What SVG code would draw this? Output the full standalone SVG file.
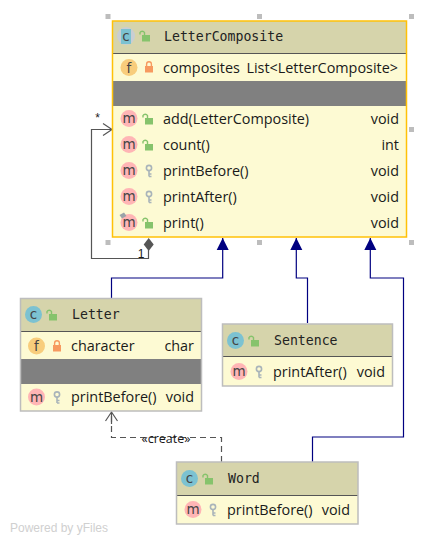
<svg xmlns="http://www.w3.org/2000/svg" width="427" height="545" viewBox="0 0 427 545">
<style>
text{font-family:"Open Sans","Noto Sans","Liberation Sans",sans-serif;font-size:14.4px;fill:#1a1a1a}
.t{font-family:"DejaVu Sans Mono","Liberation Mono",monospace;font-size:13.2px;fill:#222}
.r{text-anchor:end}
.ic{font-family:"DejaVu Sans","Liberation Sans",sans-serif;font-size:13.5px;text-anchor:middle;fill:#444}
.hd{fill:#d6d4ab}.bd{fill:#fdfad3}.gr{fill:#808080}
.box{fill:none;stroke:#bdbdbd;stroke-width:1.5}
.sel{fill:none;stroke:#ffc107;stroke-width:1.5}
.sep{stroke:#555;stroke-width:1}
.h{fill:#bdbdbd}
.inh{fill:none;stroke:#000080;stroke-width:1.2}
.ln{fill:none;stroke:#555;stroke-width:1.2}
.dash{fill:none;stroke:#555;stroke-width:1.2;stroke-dasharray:6 4}
</style>
<defs>
<circle id="cc" r="8.5" fill="#7cc2d1"/>
<circle id="cf" r="8.5" fill="#f8cd7c"/>
<circle id="cm" r="8.5" fill="#ffb5b5"/>
<g id="open"><rect x="-3" y="-1" width="8" height="6.5" fill="#86c36c"/><path d="M-2 -1V-3.5A2.6 2.6 0 0 0 -6.5 -3.5V-1.5" transform="translate(1.5 0)" fill="none" stroke="#86c36c" stroke-width="1.4"/></g>
<g id="lock"><rect x="-4" y="-1" width="8" height="6.5" fill="#f79a60"/><path d="M-2.4 -1V-2.8A2.4 2.4 0 0 1 2.4 -2.8V-1" fill="none" stroke="#f79a60" stroke-width="1.4"/></g>
<g id="key"><circle cx="0" cy="-3" r="2.6" fill="none" stroke="#a9b4ba" stroke-width="1.6"/><path d="M0 -0.5V5.5M0 3H2.5M0 5.5H2.5" fill="none" stroke="#a9b4ba" stroke-width="1.6"/></g>
<marker id="tri" markerUnits="userSpaceOnUse" markerWidth="14" markerHeight="14" refX="12" refY="6.5" orient="auto"><path d="M0 0.5L12 6.5L0 12.5Z" fill="#000080"/></marker>
<marker id="open-a" markerUnits="userSpaceOnUse" markerWidth="14" markerHeight="14" refX="12" refY="6.5" orient="auto"><path d="M3 0.5L12 6.5L3 12.5M0 6.5H12" fill="none" stroke="#555" stroke-width="1.2"/></marker>
</defs>

<g id="connectors">
<path class="inh" marker-end="url(#tri)" d="M111.500 298V278H222.700V238"/>
<path class="inh" marker-end="url(#tri)" d="M307.500 323V278H296.300V238"/>
<path class="inh" marker-end="url(#tri)" d="M312.500 462V437H403.500V278H370.300V238"/>
<path class="ln" marker-end="url(#open-a)" d="M148.500 250V258.500H91.500V129.500H112"/>
<path d="M148.700 238L153.700 244.500L148.700 251L143.700 244.500Z" fill="#555"/>
<path class="dash" marker-end="url(#open-a)" d="M221.500 462V437.500H111.500V412"/>
<text x="97.500" y="122" style="font-size:12px;text-anchor:middle;font-family:'Liberation Sans',sans-serif">*</text>
<text x="141" y="257.500" style="font-size:12px;text-anchor:middle;font-family:'Liberation Sans',sans-serif">1</text>
<text x="166" y="443" style="font-size:12.500px;text-anchor:middle">«create»</text>
</g>

<g id="LetterComposite">
<rect class="hd" x="112.500" y="21" width="294" height="32"/>
<rect class="bd" x="112.500" y="53" width="294" height="184"/>
<rect class="gr" x="112.500" y="81" width="294" height="25"/>
<path class="sep" d="M112.500 53.500H406.500"/>
<rect class="sel" x="112.500" y="21" width="294" height="216"/>
<circle cx="126" cy="36" r="9" fill="#c9ced3"/><rect x="121" y="29" width="10" height="15" fill="#7cc2d1"/>
<text class="ic" x="126" y="40.500">c</text>
<use href="#open" x="145" y="36"/>
<text class="t" x="164" y="40.500">LetterComposite</text>
<use href="#cf" x="129" y="67.500"/><text class="ic" x="129" y="72.500">f</text><use href="#lock" x="149" y="67"/>
<text x="163" y="72.500">composites</text><text class="r" x="398" y="72.500">List&lt;LetterComposite&gt;</text>
<use href="#cm" x="129" y="118.500"/><text class="ic" x="129" y="123">m</text><use href="#open" x="148" y="119"/>
<text x="163" y="123.500">add(LetterComposite)</text><text class="r" x="399" y="123.500">void</text>
<use href="#cm" x="129" y="144.500"/><text class="ic" x="129" y="149">m</text><use href="#open" x="148" y="145"/>
<text x="163" y="149.500">count()</text><text class="r" x="399" y="149.500">int</text>
<use href="#cm" x="129" y="170.500"/><text class="ic" x="129" y="175">m</text><use href="#key" x="149" y="171"/>
<text x="163" y="175.500">printBefore()</text><text class="r" x="399" y="175.500">void</text>
<use href="#cm" x="129" y="196.500"/><text class="ic" x="129" y="201">m</text><use href="#key" x="149" y="197"/>
<text x="163" y="201.500">printAfter()</text><text class="r" x="399" y="201.500">void</text>
<use href="#cm" x="129" y="222.500"/><text class="ic" x="129" y="227">m</text><use href="#open" x="148" y="223"/>
<path d="M119.500 215L124 212.500L126.500 216L122 218.500Z" fill="#9aa3a8"/>
<text x="163" y="227.500">print()</text><text class="r" x="399" y="227.500">void</text>
<rect class="h" x="105.500" y="14" width="5" height="5"/><rect class="h" x="257" y="14" width="5" height="5"/><rect class="h" x="409" y="14" width="5" height="5"/>
<rect class="h" x="409" y="127" width="5" height="5"/>
<rect class="h" x="105.500" y="240" width="5" height="5"/><rect class="h" x="257" y="240" width="5" height="5"/><rect class="h" x="409" y="240" width="5" height="5"/>
</g>

<g id="Letter">
<rect class="hd" x="20.500" y="298.500" width="181" height="33"/>
<rect class="bd" x="20.500" y="331.500" width="181" height="79.500"/>
<rect class="gr" x="20.500" y="359" width="181" height="25"/>
<path class="sep" d="M20.500 331.500H201.500"/>
<rect class="box" x="20.500" y="298.500" width="181" height="112.500"/>
<use href="#cc" x="33.500" y="314.500"/><text class="ic" x="33.500" y="319">c</text><use href="#open" x="52" y="315"/>
<text class="t" x="72" y="318.500">Letter</text>
<use href="#cf" x="36.500" y="346"/><text class="ic" x="36.500" y="351">f</text><use href="#lock" x="57" y="346"/>
<text x="71" y="351">character</text><text class="r" x="194" y="351">char</text>
<use href="#cm" x="36.500" y="397"/><text class="ic" x="36.500" y="401.500">m</text><use href="#key" x="57" y="397.500"/>
<text x="71" y="402">printBefore()</text><text class="r" x="194" y="402">void</text>
</g>

<g id="Sentence">
<rect class="hd" x="222.500" y="324" width="170" height="32"/>
<rect class="bd" x="222.500" y="356" width="170" height="30"/>
<path class="sep" d="M222.500 356.500H392.500"/>
<rect class="box" x="222.500" y="324" width="170" height="62"/>
<use href="#cc" x="235.500" y="340.500"/><text class="ic" x="235.500" y="345">c</text><use href="#open" x="254" y="341"/>
<text class="t" x="274" y="344.500">Sentence</text>
<use href="#cm" x="239" y="371.500"/><text class="ic" x="239" y="376">m</text><use href="#key" x="259" y="372"/>
<text x="273" y="376.500">printAfter()</text><text class="r" x="385" y="376.500">void</text>
</g>

<g id="Word">
<rect class="hd" x="176.500" y="462" width="181.500" height="33"/>
<rect class="bd" x="176.500" y="495" width="181.500" height="29"/>
<path class="sep" d="M176.500 495.500H358"/>
<rect class="box" x="176.500" y="462" width="181.500" height="62"/>
<use href="#cc" x="189.500" y="478.500"/><text class="ic" x="189.500" y="483">c</text><use href="#open" x="208" y="479"/>
<text class="t" x="228" y="482.500">Word</text>
<use href="#cm" x="193" y="509.500"/><text class="ic" x="193" y="514">m</text><use href="#key" x="213" y="510"/>
<text x="227" y="514.500">printBefore()</text><text class="r" x="350" y="514.500">void</text>
</g>

<text x="10" y="532" style="font-size:12px;fill:#d0d0d0;font-family:'Liberation Sans',sans-serif">Powered by yFiles</text>
</svg>
